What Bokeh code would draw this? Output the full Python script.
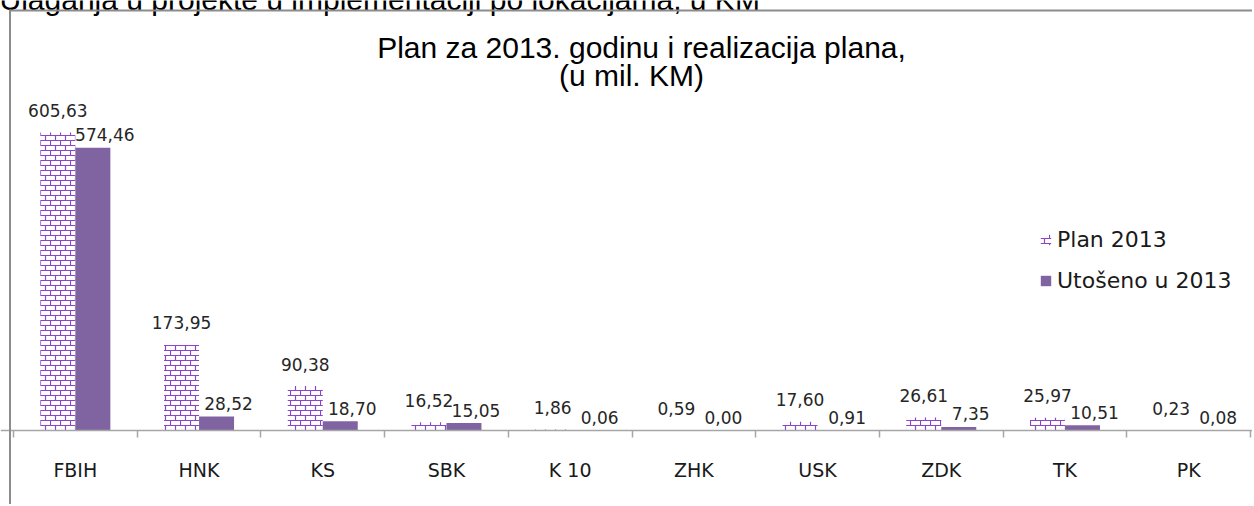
from bokeh.plotting import figure
from bokeh.models import (ColumnDataSource, Range1d, LinearAxis, FixedTicker, LabelSet, Label,
                          BoxAnnotation, Legend, LegendItem, CanvasTexture)
from bokeh.transform import dodge
from bokeh.core.properties import value
from bokeh.embed import file_html
from bokeh.resources import INLINE

# ---- data ----
categories = ["FBIH", "HNK", "KS", "SBK", "K 10", "ZHK", "USK", "ZDK", "TK", "PK"]
plan_2013 = [605.63, 173.95, 90.38, 16.52, 1.86, 0.59, 17.60, 26.61, 25.97, 0.23]
utoseno_2013 = [574.46, 28.52, 18.70, 15.05, 0.06, 0.00, 0.91, 7.35, 10.51, 0.08]
series_names = ["Plan 2013", "Utošeno u 2013"]
title_lines = ["Plan za 2013. godinu i realizacija plana,", "(u mil. KM)"]
top_caption = "Ulaganja u projekte u implementaciji po lokacijama, u KM"


def fmt(v):
    return f"{v:.2f}".replace(".", ",")


n = len(categories)
centers = [i + 0.5 for i in range(n)]
boundaries = list(range(n + 1))

src = ColumnDataSource(dict(
    x=centers, cat=categories, plan=plan_2013, real=utoseno_2013,
    plan_lbl=[fmt(v) for v in plan_2013], real_lbl=[fmt(v) for v in utoseno_2013],
))

W, H = 1252, 504
p = figure(width=W, height=H, output_backend="svg", toolbar_location=None,
           x_range=Range1d(-0.105, n + 0.016), y_range=Range1d(-150.4, 873.9),
           x_axis_location=None, y_axis_location=None,
           min_border_left=0, min_border_right=0, min_border_top=0, min_border_bottom=0)
p.outline_line_color = None
p.background_fill_color = "white"
p.border_fill_color = "white"
for g in p.grid:
    g.visible = False

# brick pattern tile (10 x 10 px)
brick = CanvasTexture(code="""
const c = ctx.canvas;
c.width = 10; c.height = 10;
ctx.clearRect(0, 0, 10, 10);
ctx.fillStyle = '#ffffff';
ctx.fillRect(0, 0, 10, 10);
ctx.strokeStyle = '#8a45c8';
ctx.lineWidth = 1.2;
ctx.beginPath();
ctx.moveTo(0, 0.5); ctx.lineTo(10, 0.5);
ctx.moveTo(0, 5.5); ctx.lineTo(10, 5.5);
ctx.moveTo(0.5, 0); ctx.lineTo(0.5, 5.5);
ctx.moveTo(5.5, 5.5); ctx.lineTo(5.5, 10);
ctx.stroke();
""", repetition="repeat")

BW = 0.283
r_plan = p.vbar(x=dodge("x", -BW / 2), top="plan", width=BW, source=src,
                fill_color="white", line_color=None,
                hatch_pattern=value("brick"), hatch_extra={"brick": brick},
                hatch_color="#8a45c8", hatch_scale=10, hatch_weight=1.2)
r_real = p.vbar(x=dodge("x", BW / 2), top="real", width=BW, source=src,
                fill_color="#8064a2", line_color=None)

FONT = "DejaVu Sans"
p.add_layout(LabelSet(x=dodge("x", -BW / 2), y="plan", text="plan_lbl",
                      source=src, text_align="center", text_baseline="middle",
                      y_offset=22, text_font=value(FONT), text_font_size="17px",
                      text_color="#262626"))
p.add_layout(LabelSet(x=dodge("x", BW / 2), y="real", text="real_lbl",
                      source=src, text_align="center", text_baseline="middle",
                      x_offset=12, y_offset=13, text_font=value(FONT), text_font_size="17px",
                      text_color="#262626"))

xaxis = LinearAxis(ticker=FixedTicker(ticks=centers, minor_ticks=boundaries),
                   major_label_overrides={c: name for c, name in zip(centers, categories)},
                   fixed_location=0,
                   major_tick_in=0, major_tick_out=0,
                   minor_tick_in=0, minor_tick_out=7,
                   axis_line_color="#a6a6a6", axis_line_width=1.5,
                   minor_tick_line_color="#a6a6a6", minor_tick_line_width=1.5,
                   major_tick_line_color=None,
                   major_label_standoff=22,
                   major_label_text_font=FONT,
                   major_label_text_font_size="19px",
                   major_label_text_color="#1a1a1a")
p.add_layout(xaxis, "below")

legend = Legend(items=[LegendItem(label=series_names[0], renderers=[r_plan]),
                       LegendItem(label=series_names[1], renderers=[r_real])],
                location=(1039, 211), orientation="vertical",
                label_text_font=FONT, label_text_font_size="22px",
                label_text_color="#1a1a1a", label_height=24, label_standoff=5,
                glyph_width=13, glyph_height=13, spacing=16, padding=0, margin=0,
                border_line_color=None, background_fill_alpha=0)
p.add_layout(legend)

TITLE_FONT = "Liberation Sans"
p.add_layout(Label(x=641, y=47, x_units="canvas", y_units="canvas", text=title_lines[0],
                   text_align="center", text_baseline="alphabetic", text_font=TITLE_FONT,
                   text_font_size="30px", text_color="#000000"))
p.add_layout(Label(x=631, y=75, x_units="canvas", y_units="canvas", text=title_lines[1],
                   text_align="center", text_baseline="alphabetic", text_font=TITLE_FONT,
                   text_font_size="30px", text_color="#000000"))
# caption above the chart box (cut off at the top edge, as in the source)
p.add_layout(Label(x=-1, y=-1, x_units="canvas", y_units="canvas", text=top_caption,
                   text_align="left", text_baseline="alphabetic", text_font=TITLE_FONT,
                   text_font_size="30px", text_color="#000000"))

p.add_layout(BoxAnnotation(left=9, right=W, top=9, bottom=11,
                           left_units="canvas", right_units="canvas",
                           top_units="canvas", bottom_units="canvas",
                           fill_color="#8c8c8c", fill_alpha=1, line_color=None))
p.add_layout(BoxAnnotation(left=8.5, right=10.5, top=9, bottom=H,
                           left_units="canvas", right_units="canvas",
                           top_units="canvas", bottom_units="canvas",
                           fill_color="#8c8c8c", fill_alpha=1, line_color=None))

open("out.html", "w").write(file_html(p, INLINE))
